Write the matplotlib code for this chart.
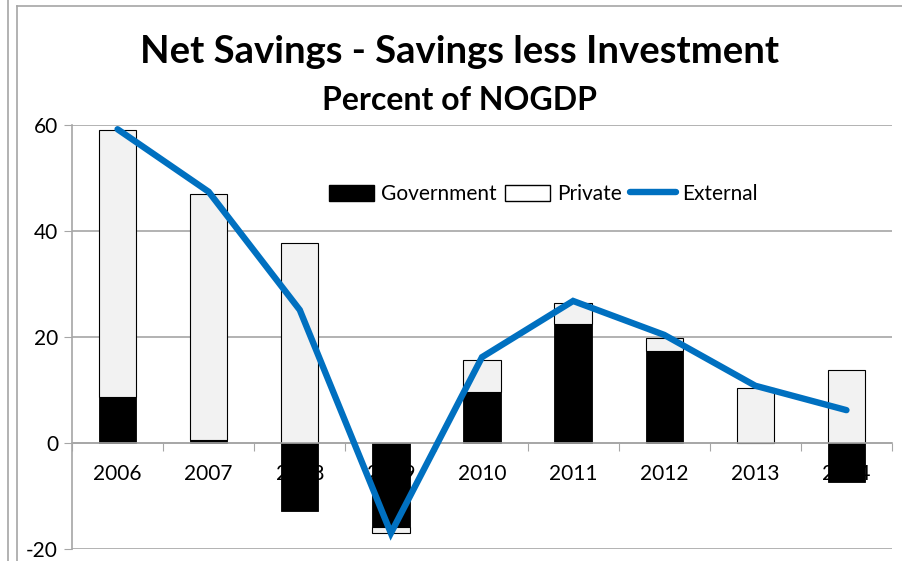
import numpy as np
import matplotlib.pyplot as plt
from matplotlib.patches import Patch
from matplotlib.lines import Line2D

years = ["2006", "2007", "2008", "2009", "2010", "2011", "2012", "2013", "2014"]
government = [8.7, 0.5, -12.8, -15.8, 9.6, 22.5, 17.3, 0.0, -7.4]
private = [50.3, 46.4, 37.7, -1.2, 6.0, 3.9, 2.5, 10.3, 13.8]
external = [59.2, 47.4, 25.1, -17.0, 16.2, 26.8, 20.4, 10.8, 6.2]
yticks = [-20, 0, 20, 40, 60]

plt.rcParams["font.family"] = ["Lato", "DejaVu Sans"]
plt.rcParams["axes.unicode_minus"] = False

grey = "#A6A6A6"
blue = "#0070C0"

fig = plt.figure(figsize=(9.02, 5.61), dpi=100)
ax = fig.add_axes([72 / 902, 12 / 561, 820 / 902, 424 / 561])

x = np.arange(len(years))
gov = np.array(government)
prv = np.array(private)
# private sits on top of government when both have the same sign
bottom = np.where(np.sign(prv) == np.sign(gov), gov, 0.0)

ax.bar(x, gov, width=0.41, color="black", edgecolor="black", linewidth=0.6, zorder=2)
ax.bar(x, prv, bottom=bottom, width=0.41, color="#F2F2F2", edgecolor="black",
       linewidth=0.8, zorder=2)
ax.plot(x, external, color=blue, lw=4.6, solid_capstyle="round",
        solid_joinstyle="miter", zorder=3)

# year labels sit under the bars
for i, yr in enumerate(years):
    ax.annotate(yr, (i, 0), xytext=(0, -22), textcoords="offset points",
                ha="center", va="center", fontsize=15, zorder=1)

ax.set_xlim(-0.5, len(years) - 0.5)
ax.set_ylim(-20, 60)
ax.set_yticks(yticks)
ax.tick_params(axis="y", length=6, color=grey, labelsize=15, pad=4)
ax.set_xticks(np.arange(-0.5, len(years)), labels=[])
ax.tick_params(axis="x", length=6, color=grey, direction="out")
ax.grid(axis="y", color=grey, lw=1.2, zorder=0)
ax.set_axisbelow(True)

for s in ["top", "right"]:
    ax.spines[s].set_visible(False)
ax.spines["bottom"].set_position(("data", 0))
ax.spines["bottom"].set_color(grey)
ax.spines["bottom"].set_linewidth(1.2)
ax.spines["left"].set_color(grey)
ax.spines["left"].set_linewidth(1.2)

handles = [Patch(facecolor="black", edgecolor="black"),
           Patch(facecolor="white", edgecolor="black"),
           Line2D([], [], color=blue, lw=4.6, solid_capstyle="round")]
fig.legend(handles, ["Government", "Private", "External"], ncol=3,
           loc="center", bbox_to_anchor=(543 / 902, 1 - 194 / 561),
           frameon=False, fontsize=15, handlelength=2.2, handleheight=0.8,
           handletextpad=0.3, columnspacing=0.4)

fig.text(460 / 902, 1 - 52 / 561, "Net Savings - Savings less Investment",
         ha="center", va="center", fontsize=27.5, fontweight="bold")
fig.text(460 / 902, 1 - 100 / 561, "Percent of NOGDP",
         ha="center", va="center", fontsize=23, fontweight="bold")

# outer frame lines
fig.add_artist(Line2D([8 / 902, 8 / 902], [0, 1], color=grey, lw=1.2))
fig.add_artist(Line2D([17 / 902, 17 / 902], [0, 1 - 6 / 561], color=grey, lw=1.2))
fig.add_artist(Line2D([17 / 902, 1], [1 - 6 / 561, 1 - 6 / 561], color=grey, lw=1.2))

fig.savefig("out.png", dpi=100)
